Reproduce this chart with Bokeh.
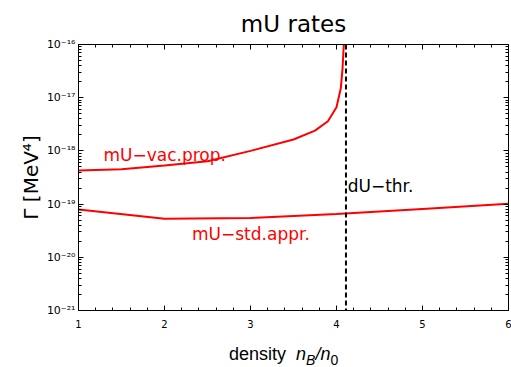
from bokeh.plotting import figure
from bokeh.layouts import column, row
from bokeh.models import (LogAxis, LinearAxis, Span, Label, LogTicker, Div, Spacer,
                          SingleIntervalTicker, CustomJSTickFormatter)
from bokeh.embed import file_html
from bokeh.resources import INLINE

# ---- data ----
x_vac = [1.0, 1.5, 2.0, 2.5, 3.0, 3.5, 3.75, 3.9, 4.0, 4.05, 4.07, 4.085, 4.09]
vac_rate = [4.3e-19, 4.5e-19, 5.3e-19, 6.4e-19, 1.0e-18, 1.64e-18, 2.4e-18,
            3.6e-18, 6.6e-18, 1.5e-17, 3.5e-17, 1.0e-16, 2.0e-16]
x_std = [1.0, 2.0, 3.0, 4.0, 5.0, 6.0]
std_rate = [7.9e-20, 5.3e-20, 5.45e-20, 6.5e-20, 8.1e-20, 1.02e-19]
dU_thr = 4.11
x_limits = (1, 6)
y_limits = (1e-21, 1e-16)

title_text = "mU rates"
y_label = "Γ [MeV⁴]"
lbl_vac = "mU−vac.prop."
lbl_std = "mU−std.appr."
lbl_du = "dU−thr."

FONT = "DejaVu Sans"

p = figure(width=504, height=334, y_axis_type="log",
           x_range=x_limits, y_range=y_limits,
           output_backend="svg", toolbar_location=None,
           min_border_left=71, min_border_right=3,
           min_border_top=44, min_border_bottom=24)

p.title.text = title_text
p.title.align = "center"
p.title.text_font = FONT
p.title.text_font_size = "23px"
p.title.text_font_style = "normal"
p.title.text_color = "black"
p.title.standoff = 16

p.xgrid.visible = False
p.ygrid.visible = False
p.outline_line_color = "black"
p.outline_line_width = 1
p.background_fill_color = "white"
p.border_fill_color = "white"

xticker = SingleIntervalTicker(interval=1, num_minor_ticks=5)
yticker = LogTicker(desired_num_ticks=6, num_minor_ticks=10)
yfmt = CustomJSTickFormatter(code="""
const e = Math.round(Math.log10(tick));
const sup = {"-":"\u207b","0":"\u2070","1":"\u00b9","2":"\u00b2","3":"\u00b3",
             "4":"\u2074","5":"\u2075","6":"\u2076","7":"\u2077","8":"\u2078","9":"\u2079"};
return "10" + String(e).split("").map(c => sup[c]).join("");
""")

def style_axis(ax, labels=True):
    ax.major_tick_in = 5
    ax.major_tick_out = 0
    ax.minor_tick_in = 3
    ax.minor_tick_out = 0
    ax.axis_line_color = "black"
    ax.major_tick_line_color = "black"
    ax.minor_tick_line_color = "black"
    if labels:
        ax.major_label_text_font = FONT
        ax.major_label_text_color = "black"
    else:
        ax.major_label_text_font_size = "1px"
        ax.major_label_text_color = None
        ax.major_label_standoff = 0

xa = p.xaxis[0]
xa.ticker = xticker
style_axis(xa)
xa.major_label_text_font_size = "10px"
xa.major_label_standoff = 9

ya = p.yaxis[0]
ya.ticker = yticker
ya.formatter = yfmt
style_axis(ya)
ya.major_label_text_font_size = "11px"
ya.major_label_standoff = 3
ya.axis_label = y_label
ya.axis_label_text_font = FONT
ya.axis_label_text_font_size = "20px"
ya.axis_label_text_font_style = "normal"
ya.axis_label_text_color = "black"
ya.axis_label_standoff = 1

top_ax = LinearAxis(ticker=xticker)
style_axis(top_ax, labels=False)
p.add_layout(top_ax, "above")
right_ax = LogAxis(ticker=yticker)
style_axis(right_ax, labels=False)
p.add_layout(right_ax, "right")

p.line(x_vac, vac_rate, line_color="#ff0000", line_width=2)
p.line(x_std, std_rate, line_color="#ff0000", line_width=2)
p.add_layout(Span(location=dU_thr, dimension="height", line_color="black",
                  line_dash="5 3", line_width=2))

p.add_layout(Label(x=1.29, y=8.45e-19, text=lbl_vac, text_color="#ff0000",
                   text_font=FONT, text_font_size="17px", text_baseline="alphabetic"))
p.add_layout(Label(x=2.32, y=2.69e-20, text=lbl_std, text_color="#ff0000",
                   text_font=FONT, text_font_size="17px", text_baseline="alphabetic"))
p.add_layout(Label(x=4.13, y=2.17e-19, text=lbl_du, text_color="black",
                   text_font=FONT, text_font_size="17px", text_baseline="alphabetic"))

# x axis label: "density  n_B/n_0" (italic symbols with subscripts)
sub = '<span style="font-size:14px; position:relative; top:5px;">%s</span>'
xlabel_html = ('density&nbsp;&nbsp;<i>n</i>' + sub % '<i>B</i>' +
               '<i>/n</i>' + sub % '0')
xlabel = Div(text=xlabel_html, width=511, height=33, margin=0,
             styles={"font-family": "Liberation Sans", "font-size": "18px",
                     "color": "black", "padding-left": "229px",
                     "padding-top": "10px", "line-height": "20px",
                     "white-space": "nowrap"})

top_row = row(Spacer(width=7, height=334, margin=0), p, spacing=0, margin=0)
layout = column(top_row, xlabel, spacing=0, margin=0)
open("out.html", "w").write(file_html(layout, INLINE))
